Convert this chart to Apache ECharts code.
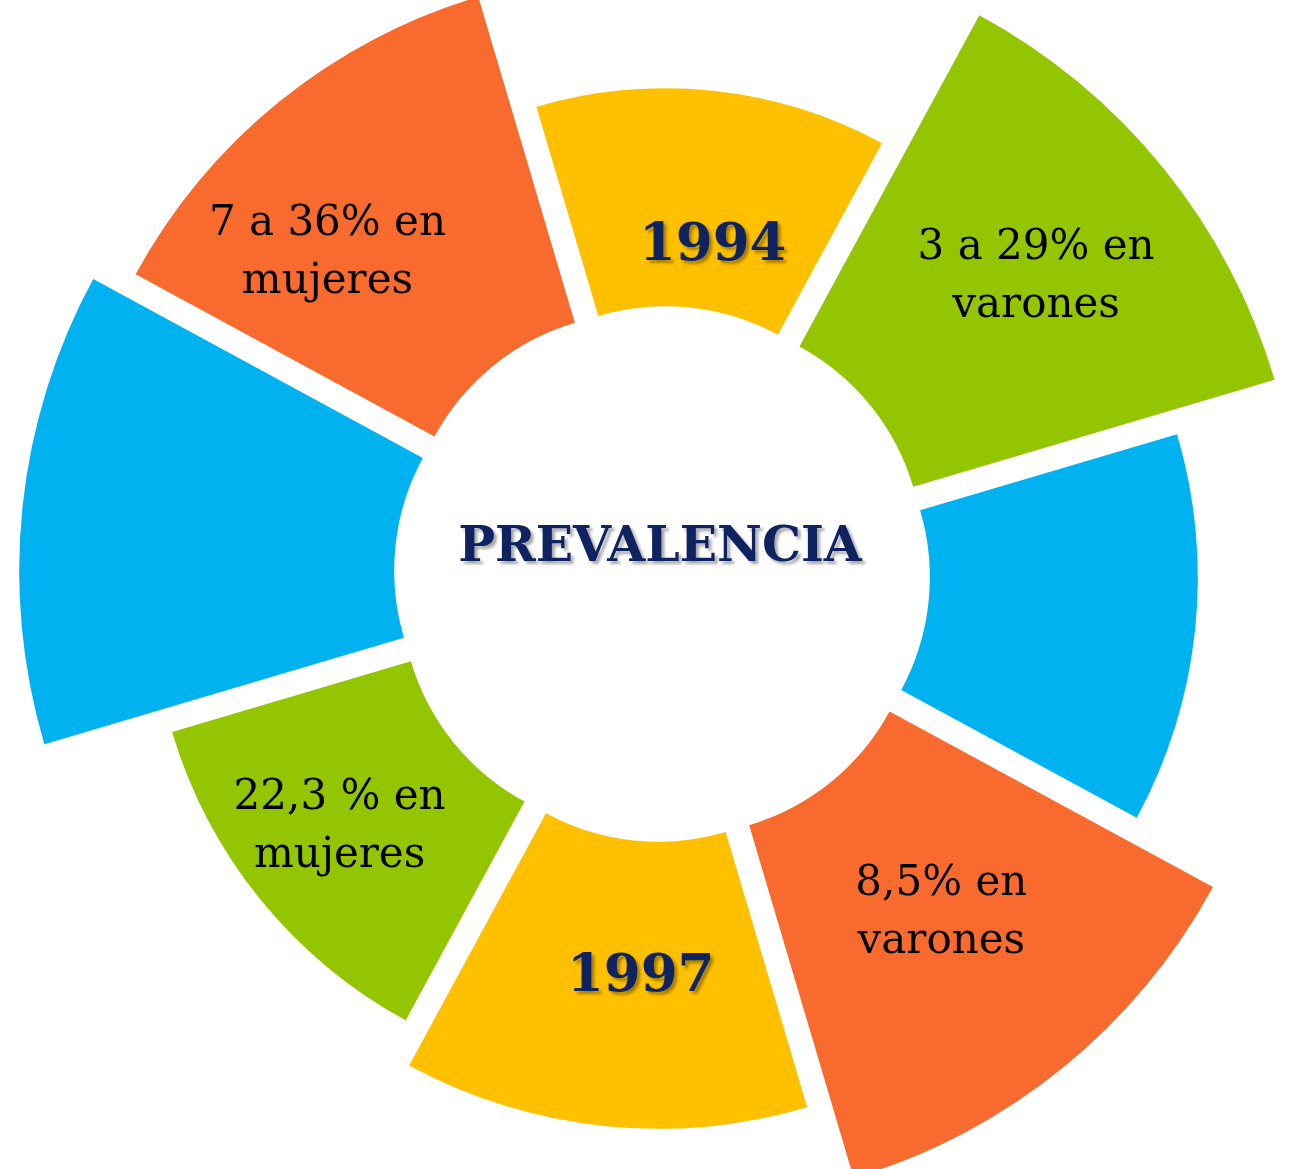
<!DOCTYPE html>
<html lang="es">

<head>
    <meta charset="UTF-8">
    <script src="https://cdn.jsdelivr.net/npm/echarts@6/dist/echarts.min.js"></script>
    <title>Prevalencia</title>
</head>
<style>
    body {
        margin: 0;
        background: #ffffff;
    }
</style>

<body>
    <div id="main" style="width: 1289px;height:1169px;"></div>
</body>
<script>
    // segmentos en sentido horario desde arriba
    let segmentNames = ['1994', '3 a 29% en\nvarones', '', '8,5% en\nvarones', '1997', '22,3 % en\nmujeres', '', '7 a 36% en\nmujeres'];
    // grosor relativo de cada segmento (radio exterior - radio interior)
    let segmentSizes = [218, 377, 268, 368, 287, 249, 375, 340];
    let segmentColors = ['#FFC000', '#93C500', '#00B2EF', '#F96A2E', '#FFC000', '#93C500', '#00B2EF', '#F96A2E'];
    let yearSegments = ['1994', '1997'];
    // pequeños ajustes de posición de las etiquetas
    let labelShift = [[11, 50], [17, -8], [0, 0], [-7, -15], [22, -9], [-15, 4], [0, 0], [-57, 22]];

    let myChart = echarts.init(document.getElementById('main'));

    let navy = '#0E2360';
    let yearLabel = {
        fontFamily: 'DejaVu Serif',
        fontWeight: 'bold',
        fontSize: 53,
        color: navy,
        textShadowColor: 'rgba(0,0,0,0.35)',
        textShadowBlur: 3,
        textShadowOffsetX: 3,
        textShadowOffsetY: 3
    };

    let seriesData = segmentNames.map((name, i) => {
        let item = {
            name: name,
            value: segmentSizes[i],
            selected: true,
            itemStyle: { color: segmentColors[i] }
        };
        if (yearSegments.indexOf(name) >= 0) {
            item.label = yearLabel;
        }
        return item;
    });

    let option = {
        animation: false,
        title: {
            text: 'PREVALENCIA',
            left: 660,
            top: 524,
            padding: 0,
            textAlign: 'center',
            textStyle: {
                fontFamily: 'DejaVu Serif',
                fontWeight: 'bold',
                fontSize: 49,
                color: navy,
                textShadowColor: 'rgba(0,0,0,0.35)',
                textShadowBlur: 3,
                textShadowOffsetX: 3,
                textShadowOffsetY: 3
            }
        },
        series: [
            {
                type: 'pie',
                roseType: 'area',
                center: [662, 574],
                radius: [236, 613],
                startAngle: 106.5,
                selectedMode: 'multiple',
                selectedOffset: 32,
                silent: true,
                label: {
                    show: true,
                    position: 'inside',
                    formatter: '{b}',
                    fontFamily: 'DejaVu Serif',
                    fontSize: 42,
                    lineHeight: 58,
                    color: '#000000'
                },
                labelLayout: function (params) {
                    let s = labelShift[params.dataIndex];
                    return { dx: s[0], dy: s[1] };
                },
                labelLine: { show: false },
                data: seriesData
            }
        ]
    };

    myChart.setOption(option);
</script>

</html>
